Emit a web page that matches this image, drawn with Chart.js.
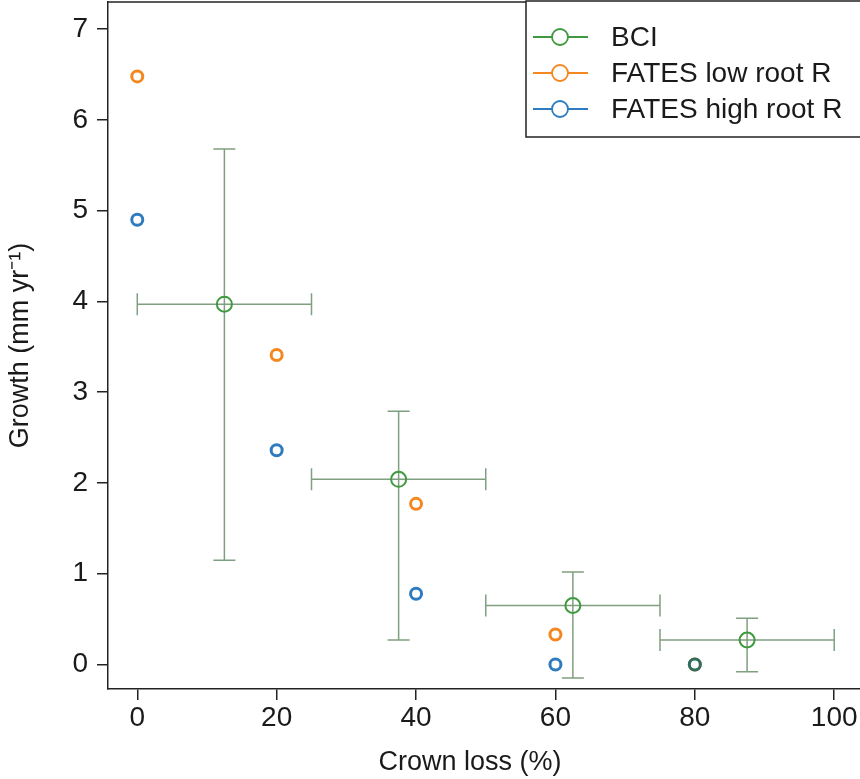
<!DOCTYPE html>
<html>
<head>
<meta charset="utf-8">
<script src="https://cdn.jsdelivr.net/npm/chart.js@4"></script>
<style>
  html, body { margin: 0; padding: 0; background: #fff; }
  #wrap { width: 860px; height: 779px; }
</style>
</head>
<body>
<div id="wrap"><canvas id="myChart"></canvas></div>
<script>
// data
const bciX = [12.5, 37.5, 62.5, 87.5]
const bciY = [3.97, 2.04, 0.65, 0.27]
const bciXLow = [0, 25, 50, 75]
const bciXHigh = [25, 50, 75, 100]
const bciYLow = [1.15, 0.27, -0.15, -0.08]
const bciYHigh = [5.68, 2.79, 1.02, 0.51]

const fatesX = [0, 20, 40, 60, 80]
const fatesLowY = [6.48, 3.41, 1.77, 0.33, 0.0]
const fatesHighY = [4.90, 2.36, 0.78, 0.0, 0.0]

const xTicks = [0, 20, 40, 60, 80, 100]
const yTicks = [0, 1, 2, 3, 4, 5, 6, 7]

const green = '#3f9a3f'
const orange = '#f5871f'
const blue = '#2f7bbf'
const barColor = '#809f80'
const fontFamily = '"Liberation Sans", Arial, sans-serif'

const toPoints = (xs, ys) => xs.map((x, i) => ({ x: x, y: ys[i] }))

// error bars drawn from the arrays through the scales
const errorBars = {
  id: 'errorBars',
  beforeDatasetsDraw(chart) {
    const ctx = chart.ctx
    const xs = chart.scales.x, ys = chart.scales.y
    ctx.save()
    ctx.strokeStyle = barColor
    ctx.lineWidth = 1.5
    const cap = 11
    for (let i = 0; i < bciX.length; i++) {
      const px = xs.getPixelForValue(bciX[i])
      const py = ys.getPixelForValue(bciY[i])
      const x1 = xs.getPixelForValue(bciXLow[i])
      const x2 = xs.getPixelForValue(bciXHigh[i])
      const y1 = ys.getPixelForValue(bciYLow[i])
      const y2 = ys.getPixelForValue(bciYHigh[i])
      ctx.beginPath()
      ctx.moveTo(x1, py); ctx.lineTo(x2, py)
      ctx.moveTo(x1, py - cap); ctx.lineTo(x1, py + cap)
      ctx.moveTo(x2, py - cap); ctx.lineTo(x2, py + cap)
      ctx.moveTo(px, y1); ctx.lineTo(px, y2)
      ctx.moveTo(px - cap, y1); ctx.lineTo(px + cap, y1)
      ctx.moveTo(px - cap, y2); ctx.lineTo(px + cap, y2)
      ctx.stroke()
    }
    ctx.restore()
  }
}

// top frame line, x title + legend box
const frameAndLegend = {
  id: 'frameAndLegend',
  afterDatasetsDraw(chart) {
    const ctx = chart.ctx
    const a = chart.chartArea
    ctx.save()
    ctx.strokeStyle = '#222'
    ctx.lineWidth = 1.5
    ctx.beginPath()
    ctx.moveTo(a.left, a.top); ctx.lineTo(a.right, a.top)
    ctx.stroke()

    // x axis title (sits a bit left of the plot centre in the original)
    ctx.font = '27px ' + fontFamily
    ctx.fillStyle = '#1a1a1a'
    ctx.textAlign = 'center'
    ctx.textBaseline = 'middle'
    ctx.fillText('Crown loss (%)', 470, 763)

    // legend
    const bx = 526, by = 1, bw = 340, bh = 136
    ctx.fillStyle = '#fff'
    ctx.fillRect(bx, by, bw, bh)
    ctx.strokeRect(bx, by, bw, bh)
    const items = [
      { label: 'BCI', color: green },
      { label: 'FATES low root R', color: orange },
      { label: 'FATES high root R', color: blue }
    ]
    ctx.font = '28px ' + fontFamily
    ctx.textAlign = 'left'
    items.forEach((it, i) => {
      const y = 37 + i * 36
      ctx.strokeStyle = it.color
      ctx.lineWidth = 1.8
      ctx.beginPath()
      ctx.moveTo(533, y); ctx.lineTo(588, y)
      ctx.stroke()
      ctx.beginPath()
      ctx.arc(560, y, 8, 0, Math.PI * 2)
      ctx.fillStyle = '#fff'
      ctx.fill()
      ctx.stroke()
      ctx.fillStyle = '#1a1a1a'
      ctx.fillText(it.label, 611, y + 1)
    })
    ctx.restore()
  }
}

const ctx = document.getElementById('myChart')
const data = {
  datasets: [{
    label: 'BCI',
    data: toPoints(bciX, bciY),
    showLine: false,
    pointRadius: 7.5,
    pointBorderWidth: 2,
    pointBorderColor: green,
    pointBackgroundColor: 'rgba(255,255,255,0)',
    order: 2
  }, {
    label: 'FATES low root R',
    data: toPoints(fatesX, fatesLowY),
    showLine: false,
    pointRadius: 5.5,
    pointBorderWidth: 3,
    pointBorderColor: orange,
    pointBackgroundColor: '#fff',
    order: 1
  }, {
    label: 'FATES high root R',
    data: toPoints(fatesX, fatesHighY),
    showLine: false,
    pointRadius: 5.5,
    pointBorderWidth: 3,
    pointBorderColor: [blue, blue, blue, blue, '#2c6e60'],
    pointBackgroundColor: '#fff',
    order: 0
  }]
}

const tickFont = { family: fontFamily, size: 28 }
const titleFont = { family: fontFamily, size: 27 }

const config = {
  type: 'scatter',
  data: data,
  plugins: [errorBars, frameAndLegend],
  options: {
    responsive: false,
    animation: false,
    events: [],
    layout: { autoPadding: false, padding: { top: 2, right: 0, left: 0, bottom: 0 } },
    plugins: {
      legend: { display: false },
      tooltip: { enabled: false }
    },
    scales: {
      x: {
        type: 'linear',
        min: -4.2,
        max: 103.7,
        afterBuildTicks: s => { s.ticks = xTicks.map(v => ({ value: v })) },
        afterFit: s => { s.height = 90; s.paddingLeft = 0; s.paddingRight = 0 },
        grid: { drawOnChartArea: false, color: '#222', tickLength: 11, lineWidth: 1.5 },
        border: { color: '#222', width: 1.5 },
        ticks: { font: tickFont, color: '#1a1a1a', padding: 1, maxRotation: 0 },
        title: { display: false }
      },
      y: {
        type: 'linear',
        min: -0.27,
        max: 7.3,
        afterBuildTicks: s => { s.ticks = yTicks.map(v => ({ value: v })) },
        afterFit: s => { s.width = 108; s.paddingTop = 0; s.paddingBottom = 0 },
        grid: { drawOnChartArea: false, color: '#222', tickLength: 11, lineWidth: 1.5 },
        border: { color: '#222', width: 1.5 },
        ticks: { font: tickFont, color: '#1a1a1a', padding: 9 },
        title: { display: true, text: 'Growth (mm yr⁻¹)', font: titleFont, color: '#1a1a1a', padding: { bottom: 0 } }
      }
    }
  }
}
ctx.width = 860
ctx.height = 779
const myChart = new Chart(ctx, config)
</script>
</body>
</html>
